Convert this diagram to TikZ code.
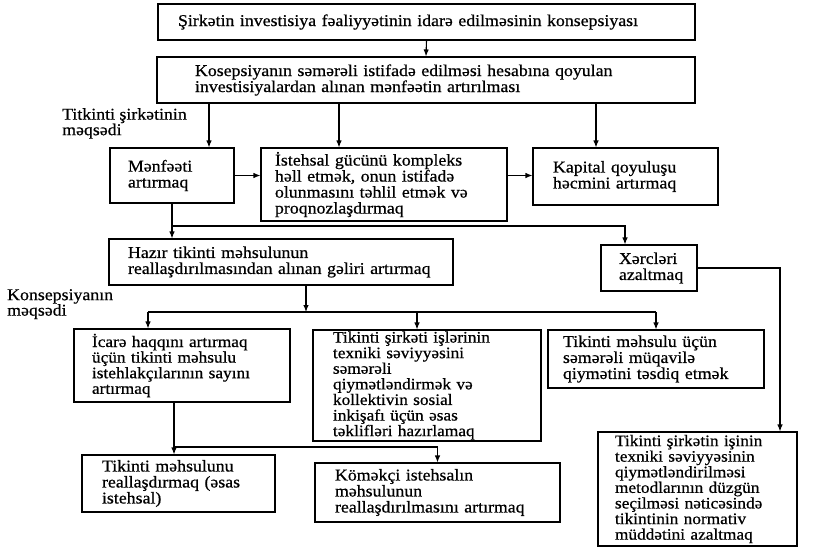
\documentclass[tikz,border=0pt]{standalone}
\usepackage{fontspec}
\setmainfont{Liberation Serif}[FakeStretch=1.08, BoldFont={Liberation Serif}, BoldFeatures={FakeBold=0.6}]
\usetikzlibrary{arrows.meta}
\begin{document}
\begin{tikzpicture}[x=1pt,y=-1pt,
  box/.style={draw, line width=1.1pt, inner xsep=0pt, inner ysep=0pt, align=left,
    font=\fontsize{16.5}{16}\selectfont\bfseries},
  tight/.style={font=\fontsize{16}{15.6}\selectfont\bfseries},
  arr/.style={line width=1.1pt, -{Latex[length=7pt,width=5.5pt]}},
  ln/.style={line width=1.1pt},
  lbl/.style={align=left, inner sep=0pt, anchor=north west, font=\fontsize{16.5}{15.5}\selectfont\bfseries}]
\useasboundingbox[fill=white] (0,0) rectangle (814,550);

\node[box, minimum width=537, minimum height=36, text width=497] (b1) at (426.5,22)
  {Şirkətin investisiya fəaliyyətinin idarə edilməsinin konsepsiyası};
\node[box, minimum width=538, minimum height=46, text width=462] (b2) at (426,80)
  {Kosepsiyanın səmərəli istifadə edilməsi hesabına qoyulan\\ investisiyalardan alınan mənfəətin artırılması};
\node[box, minimum width=124, minimum height=55, text width=88] (b3) at (172,175.5)
  {Mənfəəti\\ artırmaq};
\node[box, minimum width=246, minimum height=73, text width=218] (b4) at (384,184.5)
  {İstehsal gücünü kompleks\\ həll etmək, onun istifadə\\ olunmasını təhlil etmək və\\ proqnozlaşdırmaq};
\node[box, minimum width=185, minimum height=57, text width=145] (b5) at (625.5,176.5)
  {Kapital qoyuluşu\\ həcmini artırmaq};
\node[box, minimum width=344, minimum height=46, text width=306] (b6) at (281,262)
  {Hazır tikinti məhsulunun\\ reallaşdırılmasından alınan gəliri artırmaq};
\node[box, minimum width=96, minimum height=46, text width=60] (b7) at (649,268)
  {Xərcləri\\ azaltmaq};
\node[box, tight, minimum width=216, minimum height=73, text width=180] (b8) at (182,365.5)
  {İcarə haqqını artırmaq\\ üçün tikinti məhsulu\\ istehlakçılarının sayını\\ artırmaq};
\node[box, tight, minimum width=228, minimum height=111, text width=188] (b9) at (427,385.5)
  {Tikinti şirkəti işlərinin\\ texniki səviyyəsini\\ səmərəli\\ qiymətləndirmək və\\ kollektivin sosial\\ inkişafı üçün əsas\\ təklifləri hazırlamaq};
\node[box, minimum width=216, minimum height=58, text width=186] (b10) at (656,359)
  {Tikinti məhsulu üçün\\ səmərəli müqavilə\\ qiymətini təsdiq etmək};
\node[box, minimum width=193, minimum height=57, text width=153] (b11) at (178.5,483.5)
  {Tikinti məhsulunu\\ reallaşdırmaq (əsas\\ istehsal)};
\node[box, minimum width=245, minimum height=59, text width=205] (b12) at (437.5,492.5)
  {Köməkçi istehsalın\\ məhsulunun\\ reallaşdırılmasını artırmaq};
\node[box, tight, minimum width=199, minimum height=114, text width=165] (b13) at (697.5,489)
  {Tikinti şirkətin işinin\\ texniki səviyyəsinin\\ qiymətləndirilməsi\\ metodlarının düzgün\\ seçilməsi nəticəsində\\ tikintinin normativ\\ müddətini azaltmaq};

\node[lbl] (l1) at (62,108) {Titkinti şirkətinin\\ məqsədi};
\node[lbl] (l2) at (7,289) {Konsepsiyanın\\ məqsədi};

\coordinate (xa) at (209,0);
\coordinate (xb) at (339,0);
\coordinate (xc) at (596,0);
\coordinate (j1) at (0,226);
\coordinate (xd) at (625,0);
\coordinate (xr) at (780,0);
\coordinate (xe) at (306,0);
\coordinate (j2) at (0,312);
\coordinate (xf) at (148,0);
\coordinate (xg) at (417,0);
\coordinate (xh) at (174,0);
\coordinate (j3) at (0,447);

\draw[arr] (b1.south) -- (b2.north);
\draw[arr] (b2.south -| xa) -- (b3.north -| xa);
\draw[arr] (b2.south -| xb) -- (b4.north -| xb);
\draw[arr] (b2.south -| xc) -- (b5.north -| xc);
\draw[arr] (b3.east) -- (b3.east -| b4.west);
\draw[arr] (b3.east -| b4.east) -- (b3.east -| b5.west);
\draw[arr] (b3.south) -- (b6.north -| b3.south);
\draw[arr] (b3.south |- j1) -| (b7.north -| xd);
\draw[arr] (b7.east) -| (b13.north -| xr);
\draw[arr] (b6.south -| xe) -- (j2 -| xe);
\draw[ln] (j2 -| xf) -- (j2 -| b10.north);
\draw[arr] (j2 -| xf) -- (b8.north -| xf);
\draw[arr] (j2 -| xg) -- (b9.north -| xg);
\draw[arr] (j2 -| b10.north) -- (b10.north);
\draw[arr] (b8.south -| xh) -- (b11.north -| xh);
\draw[arr] (j3 -| xh) -| (b12.north);
\end{tikzpicture}
\end{document}
